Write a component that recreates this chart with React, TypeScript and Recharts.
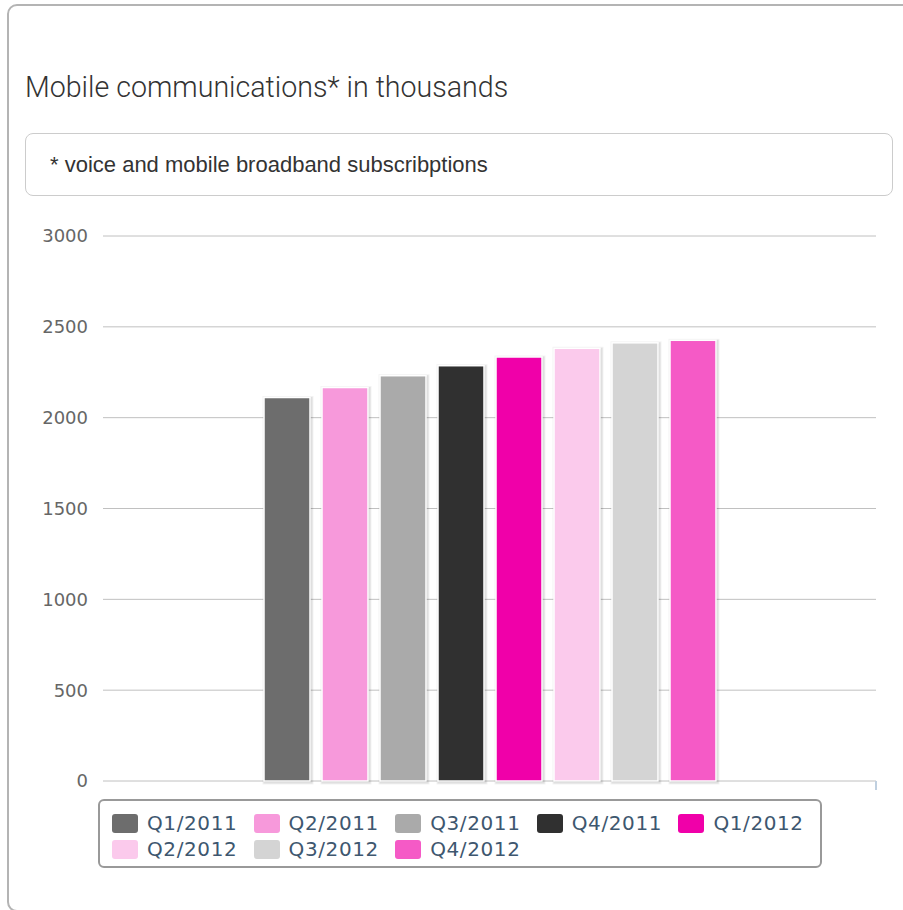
import React from 'react';
import { BarChart, Bar, XAxis, YAxis, CartesianGrid } from 'recharts';

const seriesKeys = ['q1_2011', 'q2_2011', 'q3_2011', 'q4_2011', 'q1_2012', 'q2_2012', 'q3_2012', 'q4_2012'];
const seriesNames = ['Q1/2011', 'Q2/2011', 'Q3/2011', 'Q4/2011', 'Q1/2012', 'Q2/2012', 'Q3/2012', 'Q4/2012'];
const seriesValues = [2111, 2166, 2231, 2286, 2334, 2382, 2412, 2426];
const seriesColors = ['#6d6d6d', '#f799db', '#aaaaaa', '#303030', '#f000a9', '#fbcaec', '#d4d4d4', '#f55ac6'];
const yTicks = [0, 500, 1000, 1500, 2000, 2500, 3000];
const categories = ['Mobile communications'];

const data = categories.map((c) => {
  const row: Record<string, any> = { name: c };
  seriesKeys.forEach((k, i) => {
    row[k] = seriesValues[i];
  });
  return row;
});

const ShadowBar = (props: any) => {
  const { x, y, width, height, fill } = props;
  if (width == null || height == null) return null;
  return (
    <g>
      <rect x={x + 1} y={y + 1} width={width} height={height} fill="rgba(0,0,0,0.05)" stroke="rgba(0,0,0,0.05)" strokeWidth={5} />
      <rect x={x + 1} y={y + 1} width={width} height={height} fill="rgba(0,0,0,0.08)" stroke="rgba(0,0,0,0.08)" strokeWidth={3} />
      <rect x={x} y={y} width={width} height={height} fill={fill} stroke="#ffffff" strokeWidth={1.5} />
    </g>
  );
};

export default function App() {
  return (
    <div style={{ position: 'absolute', left: 0, top: 0, width: 903, height: 910, overflow: 'hidden', background: '#fff' }}>
      <div
        style={{
          position: 'absolute',
          left: 7,
          top: 4,
          width: 930,
          height: 908,
          border: '2px solid #b4b4b4',
          borderRadius: 10,
          boxSizing: 'border-box',
        }}
      />
      <div
        style={{
          position: 'absolute',
          left: 25,
          top: 69,
          fontFamily: 'Roboto, "Liberation Sans", sans-serif',
          fontWeight: 300,
          fontSize: 30,
          color: '#333',
          whiteSpace: 'nowrap',
          lineHeight: '36px',
          transform: 'scaleX(0.953)',
          transformOrigin: '0 0',
        }}
      >
        Mobile communications* in thousands
      </div>
      <div
        style={{
          position: 'absolute',
          left: 25,
          top: 133,
          width: 868,
          height: 63,
          border: '1px solid #cccccc',
          borderRadius: 8,
          boxSizing: 'border-box',
          paddingLeft: 24,
          display: 'flex',
          alignItems: 'center',
          fontFamily: '"Liberation Sans", Arial, sans-serif',
          fontSize: 22,
          color: '#333',
          whiteSpace: 'nowrap',
        }}
      >
        * voice and mobile broadband subscribptions
      </div>
      <div style={{ position: 'absolute', left: 0, top: 0 }}>
        <BarChart
          width={903}
          height={910}
          data={data}
          margin={{ top: 236, right: 27, bottom: 129, left: 0 }}
          barSize={46}
          barGap={12}
        >
          <CartesianGrid horizontal={true} vertical={false} stroke="#c0c0c0" strokeWidth={1} />
          <XAxis
            dataKey="name"
            tick={false}
            tickLine={false}
            axisLine={{ stroke: '#c0d0e0', strokeWidth: 2 }}
            height={0}
          />
          <YAxis
            width={103}
            domain={[0, 3000]}
            ticks={yTicks}
            interval={0}
            tickLine={false}
            axisLine={false}
            tickMargin={9}
            tick={{ fill: '#666666', fontSize: 18, fontFamily: '"DejaVu Sans", Verdana, sans-serif' }}
          />
          {seriesKeys.map((k, i) => (
            <Bar
              key={k}
              dataKey={k}
              name={seriesNames[i]}
              fill={seriesColors[i]}
              isAnimationActive={false}
              shape={<ShadowBar />}
            />
          ))}
        </BarChart>
      </div>
      <div style={{ position: 'absolute', left: 875, top: 781, width: 2, height: 9, background: '#c0d0e0' }} />
      <div
        style={{
          position: 'absolute',
          left: 98,
          top: 799,
          width: 724,
          height: 69,
          border: '2px solid #999999',
          borderRadius: 6,
          boxSizing: 'border-box',
          paddingLeft: 12,
          paddingTop: 9,
          display: 'flex',
          flexWrap: 'wrap',
          alignContent: 'flex-start',
        }}
      >
        {seriesNames.map((n, i) => (
          <div key={n} style={{ width: 141.6, height: 26, display: 'flex', alignItems: 'center' }}>
            <div style={{ width: 26, height: 19, borderRadius: 3, background: seriesColors[i], marginRight: 9, flex: 'none' }} />
            <span
              style={{
                fontFamily: '"DejaVu Sans", Verdana, sans-serif',
                fontSize: 20,
                letterSpacing: 0.6,
                color: '#3e576f',
                whiteSpace: 'nowrap',
              }}
            >
              {n}
            </span>
          </div>
        ))}
      </div>
    </div>
  );
}
